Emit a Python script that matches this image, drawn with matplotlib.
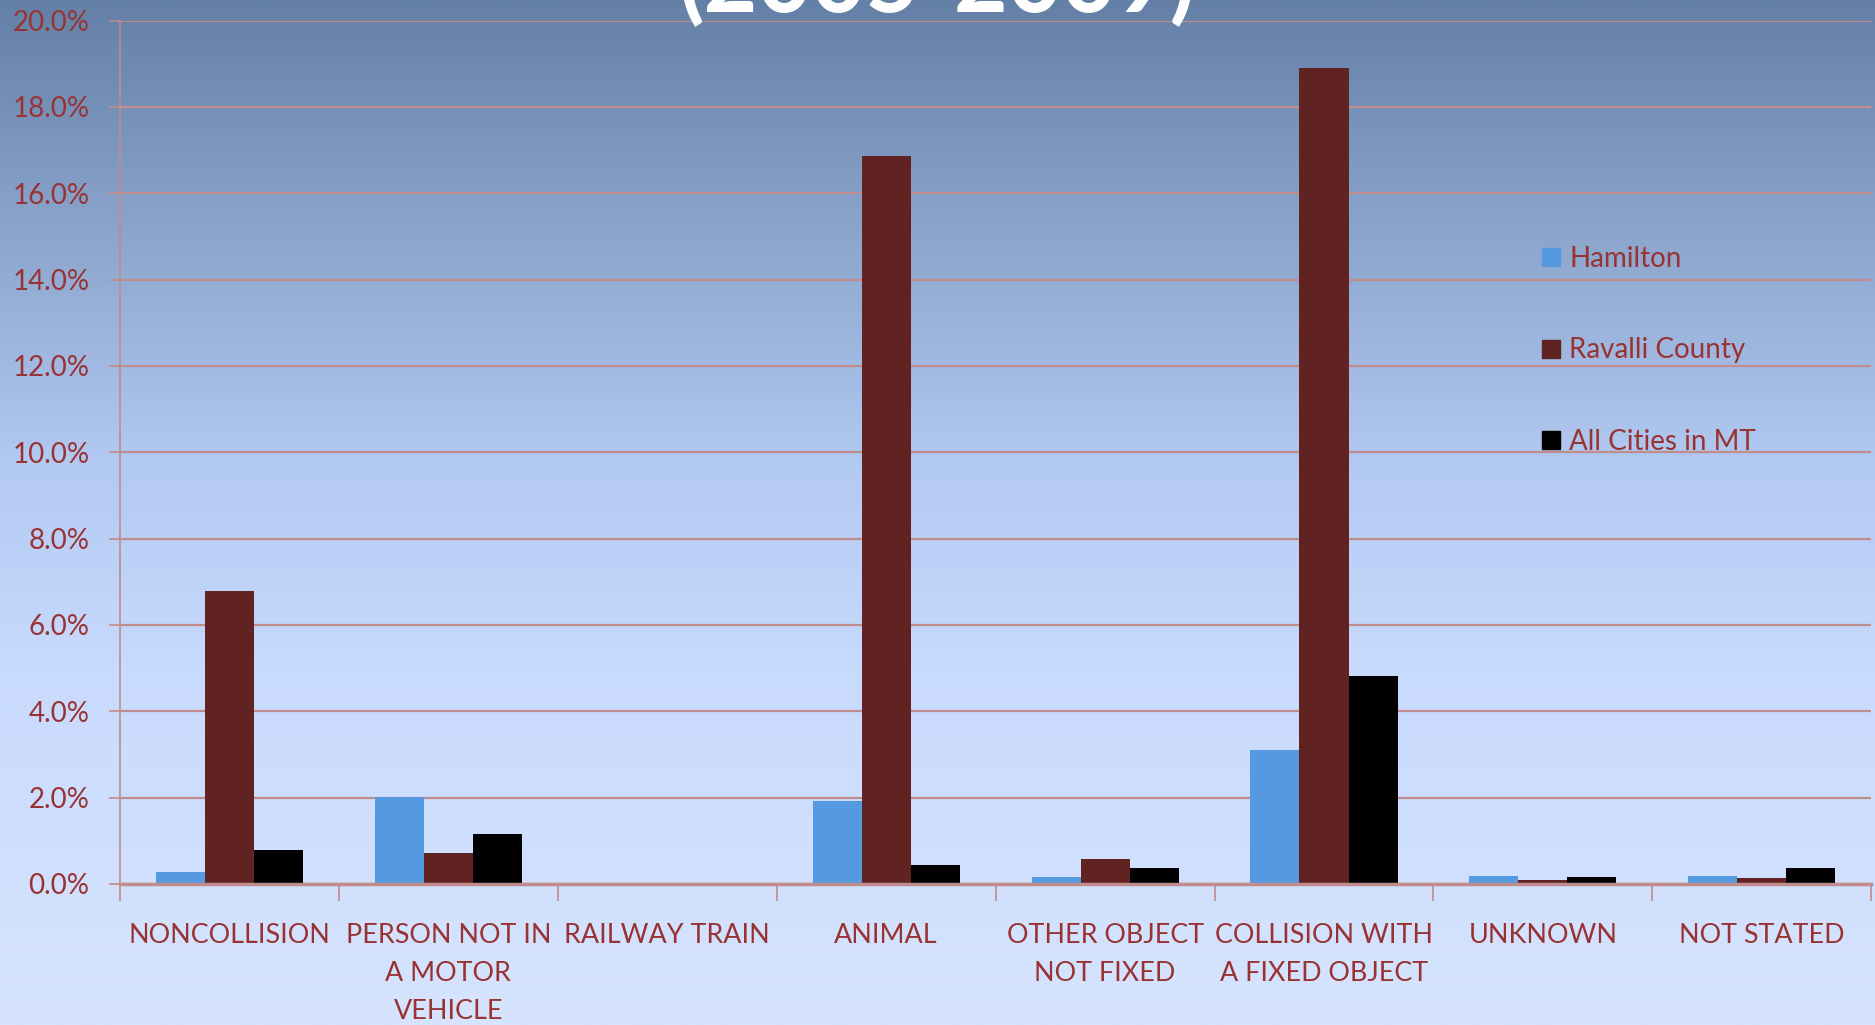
import numpy as np
import matplotlib
matplotlib.use("Agg")
import matplotlib.pyplot as plt
from matplotlib.colors import LinearSegmentedColormap
from matplotlib.patches import Patch

categories = ["NONCOLLISION", "PERSON NOT IN\nA MOTOR\nVEHICLE", "RAILWAY TRAIN", "ANIMAL",
              "OTHER OBJECT\nNOT FIXED", "COLLISION WITH\nA FIXED OBJECT", "UNKNOWN", "NOT STATED"]
hamilton = [0.28, 2.02, 0.0, 1.91, 0.17, 3.10, 0.19, 0.19]
ravalli = [6.79, 0.72, 0.0, 16.87, 0.58, 18.89, 0.10, 0.14]
all_cities = [0.78, 1.16, 0.01, 0.44, 0.36, 4.82, 0.15, 0.36]
series_names = ["Hamilton", "Ravalli County", "All Cities in MT"]
yticks = [0, 2, 4, 6, 8, 10, 12, 14, 16, 18, 20]
title = "(2005-2009)"

colors = ["#5599E0", "#612222", "#000000"]
text_color = "#993333"
grid_color = "#C08C8C"
font = "Lato"
fs = 19.4

fig = plt.figure(figsize=(18.75, 10.25), dpi=100)

# background gradient
bg = fig.add_axes([0, 0, 1, 1], zorder=-10)
cmap = LinearSegmentedColormap.from_list("bg", [(0.0, "#6480A6"), (0.45, "#B2C9F2"), (0.65, "#C8DAFD"), (1.0, "#D6E4FE")])
grad = np.linspace(0, 1, 512).reshape(-1, 1)
bg.imshow(grad, aspect="auto", cmap=cmap, extent=[0, 1, 0, 1], origin="upper")
bg.axis("off")

ax = fig.add_axes([0.064, 0.1376, 0.934, 0.8424])
ax.patch.set_alpha(0)

n = len(categories)
x = np.arange(n)
w = 0.224
for i, (vals, c, name) in enumerate(zip([hamilton, ravalli, all_cities], colors, series_names)):
    ax.bar(x + (i - 1) * w, vals, width=w, color=c, label=name, zorder=3)

ax.set_xlim(-0.5, n - 0.5)
ax.set_ylim(0, 20)
ax.set_yticks(yticks)
ax.set_yticklabels([f"{v:.1f}%" for v in yticks], color=text_color, fontsize=fs + 0.6, family=font)
ax.yaxis.grid(True, color=grid_color, linewidth=1.6, zorder=1)
ax.tick_params(axis="y", length=8, color=grid_color, width=1.2, pad=14)

ax.set_xticks(x)
ax.set_xticklabels(categories, color=text_color, fontsize=fs, family=font, linespacing=1.66)
ax.set_xticks(np.arange(n + 1) - 0.5, minor=True)
ax.tick_params(axis="x", which="major", length=0, pad=28)
ax.tick_params(axis="x", which="minor", length=12, color=grid_color, width=1.2)

for s in ["top", "right"]:
    ax.spines[s].set_visible(False)
ax.spines["left"].set_color(grid_color)
ax.spines["left"].set_linewidth(1.2)
ax.spines["bottom"].set_color(grid_color)
ax.spines["bottom"].set_linewidth(2.5)
ax.spines["bottom"].set_zorder(4)

handles = [Patch(color=c) for c in colors]
leg = ax.legend(handles, series_names, loc="upper left", bbox_to_anchor=(0.798, 0.768),
                frameon=False, labelspacing=2.36, handlelength=0.62,
                handleheight=0.62, handletextpad=0.35, prop={"family": font, "size": fs + 0.6})
for t in leg.get_texts():
    t.set_color(text_color)

fig.text(0.5, 0.988, title, color="white", fontsize=67, fontweight="bold",
         family=font, ha="center", va="baseline")

fig.savefig("out.png", dpi=100)
